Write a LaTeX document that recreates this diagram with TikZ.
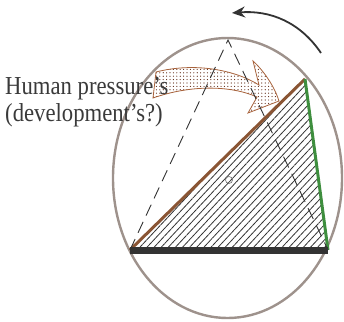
\documentclass[tikz,border=0pt]{standalone}
\usepackage{fontspec}
\setmainfont{Liberation Serif}
\usetikzlibrary{calc,patterns,patterns.meta,arrows.meta}
\definecolor{rimgray}{HTML}{9E928C}
\definecolor{darkline}{HTML}{333333}
\definecolor{brownedge}{HTML}{8A5534}
\definecolor{greenedge}{HTML}{3E8E3E}
\definecolor{arrowbrown}{HTML}{A8633C}
\definecolor{dotbrown}{HTML}{5E2610}
\definecolor{textgray}{HTML}{3A3A3A}

\begin{document}
\begin{tikzpicture}[x=1pt,y=-1pt,
    rim/.style={draw=rimgray,line width=2.4pt},
    guide/.style={dash pattern=on 12pt off 7pt,line width=0.9pt,darkline},
    fatarrow/.style={draw=arrowbrown,line width=0.8pt,preaction={fill=white},pattern={Dots[distance=3.4pt,radius=0.6pt]},pattern color=dotbrown}]
    \useasboundingbox (0,0) rectangle (344,321);
    % corners of the triangle
    \coordinate (bl) at (130,250);
    \coordinate (br) at (328,250);
    \coordinate (tp) at (305,79);
    \coordinate (apex) at (228,40);
    \draw[rim] (227.5,178) ellipse[x radius=114.5,y radius=140];
    \fill[pattern={Lines[angle=47,distance=5.2pt,line width=0.8pt]},pattern color=darkline] (bl) -- (br) -- (tp) -- cycle;
    \draw[line width=3pt,brownedge] (bl) -- (tp);
    \draw[line width=3pt,greenedge] (tp) -- (br);
    \draw[line width=7pt,darkline] (bl) -- (br);
    \node[circle,draw=darkline!70,line width=0.6pt,inner sep=0pt,minimum size=7pt] (ctr) at (229,180) {};
    % the pressure arrow
    \draw[fatarrow] (156,72) .. controls (195,62) and (235,70) .. (259,85)
      -- (253,61) .. controls (265,72) and (275,88) .. (279,101)
      -- (248,113) -- (257,97) .. controls (230,85) and (190,85) .. (153,98) -- cycle;
    \node[anchor=base west,inner sep=0pt,text=textgray,font=\fontsize{22.7}{24.5}\selectfont] (label) at (5,94)
      {\scalebox{1}[1.14]{\begin{tabular}[t]{@{}l@{}}Human pressure's\\(development's?)\end{tabular}}};
    \draw[guide] (bl) -- (apex) -- (br);
    % rotation
    \coordinate (swingA) at (321,53);
    \coordinate (swingB) at (232,13);
    \draw[-{Stealth[length=13pt,width=11pt]},line width=1.8pt,darkline] (swingA) .. controls (300,22) and (270,10) .. (swingB);
\end{tikzpicture}
\end{document}
